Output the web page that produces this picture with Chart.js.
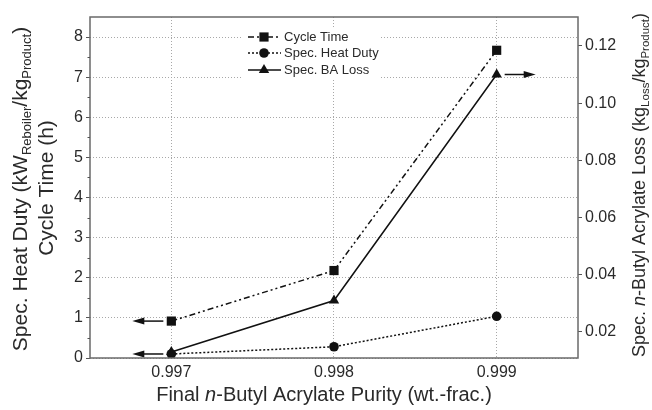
<!DOCTYPE html>
<html>
<head>
<meta charset="utf-8">
<script src="https://cdn.jsdelivr.net/npm/chart.js@4/dist/chart.umd.min.js"></script>
<style>
  html, body { margin: 0; padding: 0; background: #fff; }
  #wrap { width: 652px; height: 410px; position: relative; }
</style>
</head>
<body>
<div id="wrap"><canvas id="c" width="652" height="410"></canvas></div>
<script>
// ---- data ----
const purity = [0.997, 0.998, 0.999];
const cycleTime = [0.92, 2.18, 7.67];
const heatDuty = [0.10, 0.28, 1.04];
const baLoss = [0.013, 0.031, 0.110];

const xTicks = [0.997, 0.998, 0.999];
const leftTicks = [0, 1, 2, 3, 4, 5, 6, 7, 8];
const leftMinorTicks = [0.5, 1.5, 2.5, 3.5, 4.5, 5.5, 6.5, 7.5];
const rightTicks = [0.02, 0.04, 0.06, 0.08, 0.10, 0.12];

const seriesNames = ['Cycle Time', 'Spec. Heat Duty', 'Spec. BA Loss'];

const FONT = '"Liberation Sans", Arial, sans-serif';
const INK = '#111';
const TXT = '#2a2a2a';

function pts(ys) { return purity.map((x, i) => ({ x: x, y: ys[i] })); }

// arrows: dataset index, point index, direction
const arrows = [
  { ds: 0, idx: 0, dir: -1 },
  { ds: 1, idx: 0, dir: -1 },
  { ds: 2, idx: 2, dir: 1 }
];

function drawMarker(ctx, style, x, y, r) {
  ctx.beginPath();
  if (style === 'rect') {
    const s = r * Math.SQRT1_2;
    ctx.rect(x - s, y - s, 2 * s, 2 * s);
  } else if (style === 'circle') {
    ctx.arc(x, y, r, 0, Math.PI * 2);
  } else if (style === 'triangle') {
    ctx.moveTo(x, y - r);
    ctx.lineTo(x + r * 0.866, y + r * 0.5);
    ctx.lineTo(x - r * 0.866, y + r * 0.5);
    ctx.closePath();
  }
  ctx.fill();
}

function richWidth(ctx, parts, size, subSize) {
  let w = 0;
  parts.forEach(p => {
    ctx.font = (p.i ? 'italic ' : '') + (p.sub ? subSize : size) + 'px ' + FONT;
    w += ctx.measureText(p.t).width;
  });
  return w;
}
function drawRich(ctx, parts, cx, cy, rot, size, subSize) {
  ctx.save();
  ctx.translate(cx, cy);
  ctx.rotate(rot);
  ctx.fillStyle = TXT;
  ctx.textBaseline = 'middle';
  ctx.textAlign = 'left';
  const w = richWidth(ctx, parts, size, subSize);
  let x = -w / 2;
  parts.forEach(p => {
    ctx.font = (p.i ? 'italic ' : '') + (p.sub ? subSize : size) + 'px ' + FONT;
    ctx.fillText(p.t, x, p.sub ? size * 0.32 : 0);
    x += ctx.measureText(p.t).width;
  });
  ctx.restore();
}

const xTitle = [{ t: 'Final ' }, { t: 'n', i: true }, { t: '-Butyl Acrylate Purity (wt.-frac.)' }];
const leftTitle1 = [{ t: 'Spec. Heat Duty (kW' }, { t: 'Reboiler', sub: true }, { t: '/kg' }, { t: 'Product', sub: true }, { t: ')' }];
const leftTitle2 = [{ t: 'Cycle Time (h)' }];
const rightTitle = [{ t: 'Spec. ' }, { t: 'n', i: true }, { t: '-Butyl Acrylate Loss (kg' }, { t: 'Loss', sub: true }, { t: '/kg' }, { t: 'Product', sub: true }, { t: ')' }];

const decorPlugin = {
  id: 'decor',
  afterDatasetsDraw(chart) {
    const ctx = chart.ctx;
    const a = chart.chartArea;
    // arrows
    ctx.save();
    ctx.strokeStyle = INK;
    ctx.fillStyle = INK;
    ctx.lineWidth = 1.5;
    arrows.forEach(ar => {
      const el = chart.getDatasetMeta(ar.ds).data[ar.idx];
      const x0 = el.x + ar.dir * 8;
      const x1 = el.x + ar.dir * 39;
      const y = el.y;
      ctx.beginPath();
      ctx.moveTo(x0, y);
      ctx.lineTo(x1 - ar.dir * 8, y);
      ctx.stroke();
      ctx.beginPath();
      ctx.moveTo(x1, y);
      ctx.lineTo(x1 - ar.dir * 12, y - 3.5);
      ctx.lineTo(x1 - ar.dir * 12, y + 3.5);
      ctx.closePath();
      ctx.fill();
    });
    ctx.restore();

    // legend
    ctx.save();
    ctx.fillStyle = '#fff';
    ctx.fillRect(243, 27, 136, 52);
    const rows = [37, 53, 70];
    chart.data.datasets.forEach((ds, i) => {
      const y = rows[i];
      ctx.strokeStyle = INK;
      ctx.lineWidth = 1.5;
      ctx.setLineDash(ds.borderDash || []);
      ctx.beginPath();
      ctx.moveTo(248, y);
      ctx.lineTo(281, y);
      ctx.stroke();
      ctx.setLineDash([]);
      ctx.fillStyle = INK;
      drawMarker(ctx, ds.pointStyle, 264, y, ds.pointRadius);
      ctx.fillStyle = TXT;
      ctx.font = '13px ' + FONT;
      ctx.textBaseline = 'middle';
      ctx.textAlign = 'left';
      ctx.fillText(ds.label, 284, y + 0.5);
    });
    ctx.restore();

    // frame + minor ticks on left axis
    ctx.save();
    ctx.strokeStyle = '#6a6a6a';
    ctx.lineWidth = 1.5;
    ctx.strokeRect(a.left, a.top, a.right - a.left, a.bottom - a.top);
    const ys = chart.scales.y;
    ctx.lineWidth = 1;
    ctx.strokeStyle = '#555';
    ctx.beginPath();
    leftMinorTicks.forEach(v => {
      const py = Math.round(ys.getPixelForValue(v)) + 0.5;
      ctx.moveTo(a.left - 2.5, py);
      ctx.lineTo(a.left, py);
    });
    ctx.stroke();
    ctx.restore();
  },
  afterDraw(chart) {
    const ctx = chart.ctx;
    drawRich(ctx, xTitle, 324, 395, 0, 20, 13);
    drawRich(ctx, leftTitle1, 21, 189, -Math.PI / 2, 21, 13);
    drawRich(ctx, leftTitle2, 47, 188, -Math.PI / 2, 21, 13);
    drawRich(ctx, rightTitle, 640, 185, -Math.PI / 2, 18, 11.5);
  }
};

new Chart(document.getElementById('c'), {
  type: 'line',
  data: {
    datasets: [
      {
        label: seriesNames[0], data: pts(cycleTime), yAxisID: 'y',
        borderColor: INK, backgroundColor: INK, borderWidth: 1.5,
        borderDash: [6, 3, 2, 3, 2, 3],
        pointStyle: 'rect', pointRadius: 6.5, pointBorderWidth: 0, pointBackgroundColor: INK
      },
      {
        label: seriesNames[1], data: pts(heatDuty), yAxisID: 'y',
        borderColor: INK, backgroundColor: INK, borderWidth: 1.5,
        borderDash: [2, 2],
        pointStyle: 'circle', pointRadius: 4.8, pointBorderWidth: 0, pointBackgroundColor: INK
      },
      {
        label: seriesNames[2], data: pts(baLoss), yAxisID: 'y1',
        borderColor: INK, backgroundColor: INK, borderWidth: 1.5,
        pointStyle: 'triangle', pointRadius: 6, pointBorderWidth: 0, pointBackgroundColor: INK
      }
    ]
  },
  options: {
    responsive: false,
    animation: false,
    devicePixelRatio: 1,
    layout: { padding: { top: 17, left: 0, right: 0, bottom: 0 } },
    plugins: { legend: { display: false }, tooltip: { enabled: false } },
    elements: { line: { tension: 0 } },
    scales: {
      x: {
        type: 'linear', min: 0.9965, max: 0.9995,
        afterBuildTicks: s => { s.ticks = xTicks.map(v => ({ value: v })); },
        afterFit: s => { s.height = 52; },
        ticks: { callback: v => v.toFixed(3), color: TXT, font: { family: FONT, size: 16 }, padding: 5, maxRotation: 0, autoSkip: false },
        grid: { color: '#a8a8a8', lineWidth: 1, drawTicks: false },
        border: { display: false, dash: [1, 2] }
      },
      y: {
        type: 'linear', position: 'left', min: 0, max: 8.5,
        afterBuildTicks: s => { s.ticks = leftTicks.map(v => ({ value: v })); },
        afterFit: s => { s.width = 90; },
        ticks: { callback: v => String(v), color: TXT, font: { family: FONT, size: 16 }, padding: 3, autoSkip: false },
        grid: { color: '#a8a8a8', lineWidth: 1, drawTicks: true, tickLength: 4, tickColor: '#555', tickBorderDash: [] },
        border: { display: false, dash: [1, 2] }
      },
      y1: {
        type: 'linear', position: 'right', min: 0.0109, max: 0.1301,
        afterBuildTicks: s => { s.ticks = rightTicks.map(v => ({ value: v })); },
        afterFit: s => { s.width = 74; },
        ticks: { callback: v => v.toFixed(2), color: TXT, font: { family: FONT, size: 16 }, padding: 3, autoSkip: false },
        grid: { drawOnChartArea: false, drawTicks: true, tickLength: 4, tickColor: '#555' },
        border: { display: false }
      }
    }
  },
  plugins: [decorPlugin]
});
</script>
</body>
</html>
